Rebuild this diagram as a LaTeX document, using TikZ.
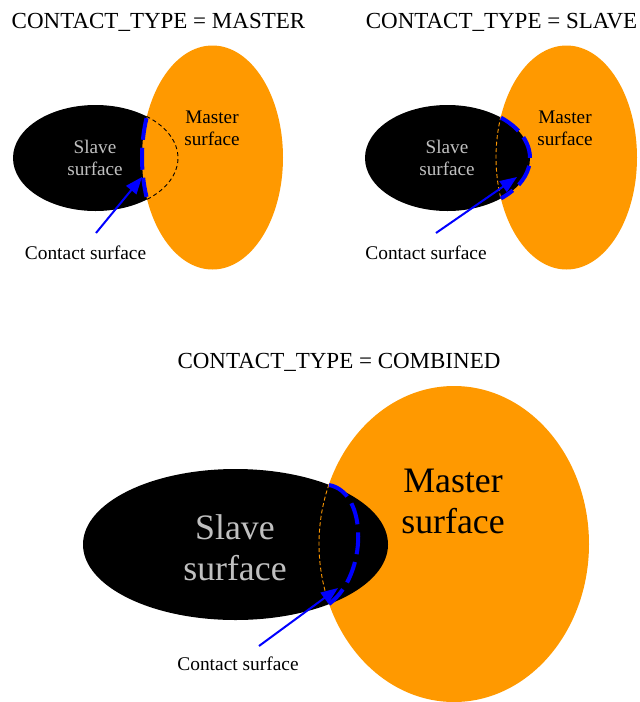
\documentclass[tikz,border=0pt]{standalone}
\usepackage{fontspec}
\setmainfont{Liberation Serif}
\usetikzlibrary{arrows.meta}
\definecolor{surforange}{RGB}{255,153,0}
\definecolor{slavegray}{RGB}{192,192,192}
\definecolor{cblue}{RGB}{0,0,255}
\begin{document}
\begin{tikzpicture}[x=1pt,y=-1pt,
  slavefill/.style={fill=black},
  masterfill/.style={fill=surforange},
  contactdash/.style={draw=cblue, line width=4pt, dash pattern=on 22pt off 8pt},
  hiddenblack/.style={draw=black, line width=0.9pt, dash pattern=on 4pt off 3pt},
  hiddenorange/.style={draw=surforange, line width=0.9pt, dash pattern=on 4pt off 2.5pt},
  pointer/.style={draw=cblue, line width=2pt, -{Triangle[length=17pt,width=13pt]}},
  titletext/.style={font=\fontsize{23}{27}\selectfont, anchor=base, inner sep=0pt},
  smallslave/.style={font=\fontsize{19.2}{22}\selectfont, text=slavegray, align=center, inner sep=0pt},
  smallmaster/.style={font=\fontsize{19.2}{22}\selectfont, text=black, align=center, inner sep=0pt},
  contactlabel/.style={font=\fontsize{19.4}{22}\selectfont, inner sep=0pt},
  bigslave/.style={font=\fontsize{35.8}{41}\selectfont, text=slavegray, align=center, inner sep=0pt},
  bigmaster/.style={font=\fontsize{35.8}{41}\selectfont, text=black, align=center, inner sep=0pt},
]
\useasboundingbox (0,0) rectangle (640,702);

% ---------- Panel 1: MASTER ----------
\fill[slavefill] (95.5,158) ellipse [x radius=82.5, y radius=53];
\fill[masterfill] (212.5,157.5) ellipse [x radius=70.5, y radius=112];
\draw[hiddenblack] (95.5,158) ++(-51.8:82.5 and 53)
  arc[start angle=-51.8, end angle=51.8, x radius=82.5, y radius=53];
\draw[contactdash] (212.5,157.5) ++(200.6:70.5 and 112)
  arc[start angle=200.6, end angle=159.4, x radius=70.5, y radius=112];
\node[titletext] (t1) at (158.5,28) {CONTACT\_TYPE = MASTER};
\node[smallslave] (s1) at (95,158) {Slave\\surface};
\node[smallmaster] (m1) at (212,128) {Master\\surface};
\node[contactlabel] (c1) at (85.5,253) {Contact surface};
\coordinate (a1s) at (96,233);
\coordinate (a1e) at (142,177);
\draw[pointer] (a1s) -- (a1e);

% ---------- Panel 2: SLAVE ----------
\fill[masterfill] (566.5,157.5) ellipse [x radius=70.5, y radius=112];
\fill[slavefill] (447.5,158) ellipse [x radius=82.5, y radius=53];
\draw[hiddenorange] (566.5,157.5) ++(201.7:70.5 and 112)
  arc[start angle=201.7, end angle=158.3, x radius=70.5, y radius=112];
\draw[contactdash] (447.5,158) ++(-49.6:82.5 and 53)
  arc[start angle=-49.6, end angle=49.6, x radius=82.5, y radius=53];
\node[titletext] (t2) at (501.5,28) {CONTACT\_TYPE = SLAVE};
\node[smallslave] (s2) at (447,158) {Slave\\surface};
\node[smallmaster] (m2) at (565,128) {Master\\surface};
\node[contactlabel] (c2) at (426,253) {Contact surface};
\coordinate (a2s) at (436,233);
\coordinate (a2e) at (517,177);
\draw[pointer] (a2s) -- (a2e);

% ---------- Panel 3: COMBINED ----------
\fill[masterfill] (454,544) ellipse [x radius=135, y radius=158];
\fill[slavefill] (235.5,544.5) ellipse [x radius=152.5, y radius=75.5];
\draw[hiddenorange] (454,544) ++(202.2:135 and 158)
  arc[start angle=202.2, end angle=157.8, x radius=135, y radius=158];
\coordinate (top3) at (329,485);
\coordinate (bot3) at (329,604);
\draw[contactdash] (top3) .. controls (368,492) and (368,575) .. (bot3);
\node[titletext] (t3) at (339,368) {CONTACT\_TYPE = COMBINED};
\node[bigslave] (s3) at (235,548) {Slave\\surface};
\node[bigmaster] (m3) at (453,501) {Master\\surface};
\node[contactlabel] (c3) at (238,664) {Contact surface};
\coordinate (a3s) at (259,646);
\coordinate (a3e) at (338,588);
\draw[pointer] (a3s) -- (a3e);
\end{tikzpicture}
\end{document}
